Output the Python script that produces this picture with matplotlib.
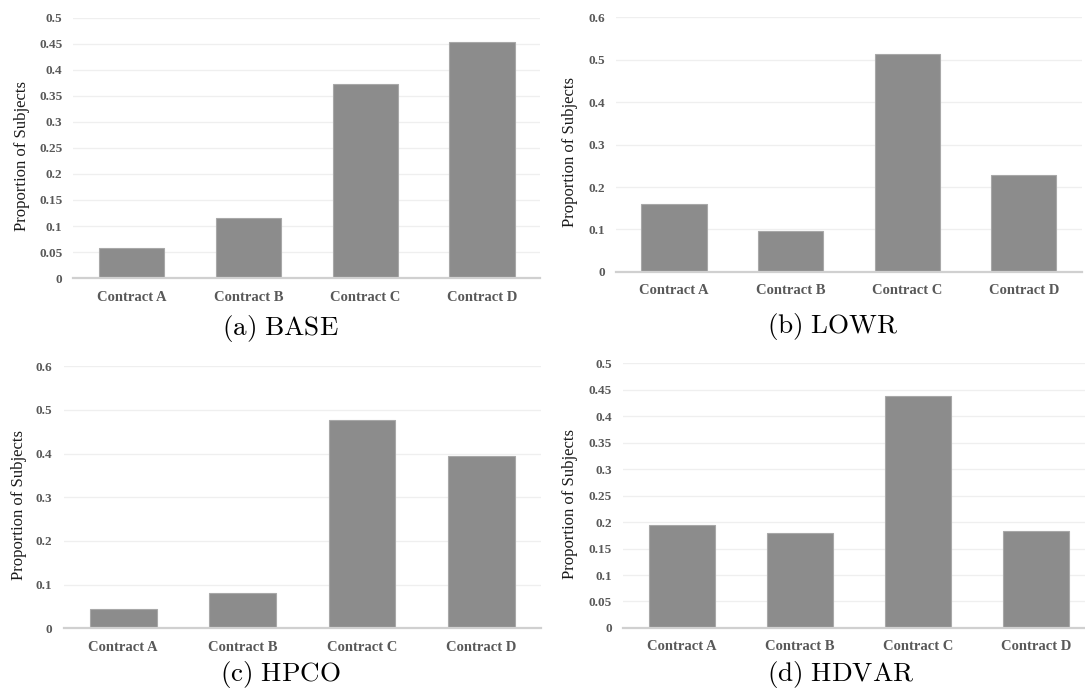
import matplotlib.pyplot as plt
import numpy as np

plt.rcParams['mathtext.fontset'] = 'cm'

contracts = ['Contract A', 'Contract B', 'Contract C', 'Contract D']
base = [0.058, 0.115, 0.373, 0.453]
lowr = [0.160, 0.097, 0.513, 0.229]
hpco = [0.043, 0.081, 0.476, 0.394]
hdvar = [0.195, 0.180, 0.439, 0.184]

captions = ['(a)\\ BASE', '(b)\\ LOWR', '(c)\\ HPCO', '(d)\\ HDVAR']
ymaxes = [0.5, 0.6, 0.6, 0.5]
ysteps = [0.05, 0.1, 0.1, 0.05]

fig = plt.figure(figsize=(10.85, 6.97), dpi=100)

# axes boxes in figure fractions [left, bottom, width, height]
boxes = [
    [0.0677, 0.6011, 0.4303, 0.3732],
    [0.5675, 0.6098, 0.4298, 0.3656],
    [0.0586, 0.0987, 0.4400, 0.3759],
    [0.5742, 0.0991, 0.4347, 0.3795],
]
label_x = [-0.094, -0.080, -0.077, -0.096]
cap_pos = [(0.258, 0.528), (0.768, 0.531), (0.258, 0.032), (0.775, 0.032)]

tickfont = dict(family='Liberation Serif', weight='bold', color='#595959')

def fmt(v):
    s = ('%.2f' % v).rstrip('0').rstrip('.')
    return s

for i, data in enumerate([base, lowr, hpco, hdvar]):
    ax = fig.add_axes(boxes[i])
    x = np.arange(len(contracts))
    ax.bar(x, data, width=0.56, color='#8c8c8c', edgecolor='#a8a8a8',
           linewidth=0.8, zorder=3)
    ax.set_xlim(-0.5, 3.5)
    ax.set_ylim(0, ymaxes[i])
    ticks = np.round(np.arange(0, ymaxes[i] + 1e-9, ysteps[i]), 2)
    ax.set_yticks(ticks)
    ax.set_yticklabels([fmt(t) for t in ticks], fontsize=9.5, **tickfont)
    ax.set_xticks(x)
    ax.set_xticklabels(contracts, fontsize=10.5, **tickfont)
    ax.tick_params(axis='both', length=0)
    ax.tick_params(axis='y', pad=8)
    ax.tick_params(axis='x', pad=9)
    ax.yaxis.grid(True, color='#efefef', linewidth=0.9, zorder=0)
    for s in ['left', 'right', 'top']:
        ax.spines[s].set_visible(False)
    ax.spines['bottom'].set_color('#d0d0d0')
    ax.spines['bottom'].set_linewidth(1.6)
    ax.spines['bottom'].set_zorder(4)
    ax.set_ylabel('Proportion of Subjects', family='Liberation Serif',
                  fontsize=12, color='#1a1a1a')
    ax.yaxis.set_label_coords(label_x[i], 0.47)
    fig.text(cap_pos[i][0], cap_pos[i][1], '$\\mathrm{' + captions[i] + '}$',
             ha='center', va='center', fontsize=19.5)

plt.savefig('out.png', dpi=100)
